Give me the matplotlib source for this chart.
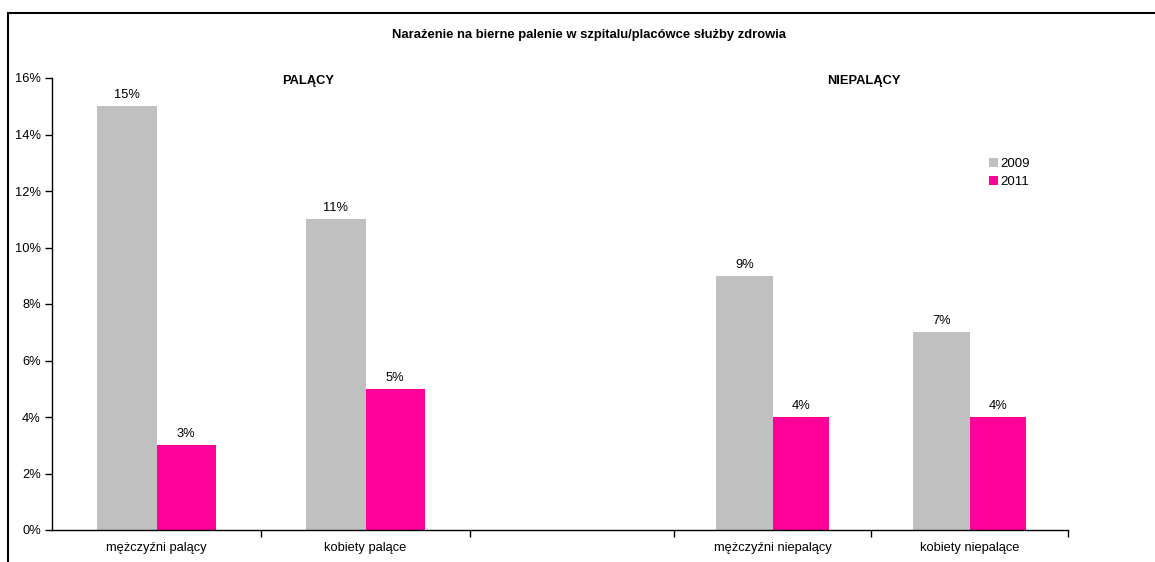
import matplotlib.pyplot as plt
from matplotlib.patches import Patch
from matplotlib.lines import Line2D

plt.rcParams['font.family'] = ['Liberation Sans', 'DejaVu Sans']

kategorie = ["mężczyźni palący", "kobiety palące", "mężczyźni niepalący", "kobiety niepalące"]
lata = ["2009", "2011"]
v2009 = [15, 11, 9, 7]
v2011 = [3, 5, 4, 4]
kolory = ["#C0C0C0", "#FF0099"]
yticks = [0, 2, 4, 6, 8, 10, 12, 14, 16]

# slot edges (left group wider than right group, empty slot in between)
edges = [0, 1, 2, 2.976, 3.919, 4.861]
slots = [(edges[0], edges[1]), (edges[1], edges[2]), (edges[3], edges[4]), (edges[4], edges[5])]
centers = [(a + b) / 2 for a, b in slots]
widths = [(b - a) * 0.285 for a, b in slots]

fs = 9.3
W, H = 1155, 562
fig = plt.figure(figsize=(W / 100, H / 100), dpi=100)
ax = fig.add_axes([52 / W, 1 - 530 / H, (1068 - 52) / W, (530 - 78) / H])

for i in range(len(kategorie)):
    c, w = centers[i], widths[i]
    ax.bar(c - w / 2, v2009[i], width=w, color=kolory[0], linewidth=0)
    ax.bar(c + w / 2, v2011[i], width=w, color=kolory[1], linewidth=0)
    ax.text(c - w / 2, v2009[i] + 0.18, f"{v2009[i]}%", ha="center", va="bottom", fontsize=fs)
    ax.text(c + w / 2, v2011[i] + 0.18, f"{v2011[i]}%", ha="center", va="bottom", fontsize=fs)

ax.set_xlim(edges[0], edges[-1])
ax.set_ylim(0, 16)
ax.set_yticks(yticks)
ax.set_yticklabels([f"{t}%" for t in yticks], fontsize=fs)
ax.set_xticks(edges[1:])
ax.set_xticklabels([])
ax.set_xticks(centers, minor=True)
ax.set_xticklabels(kategorie, minor=True, fontsize=fs)
ax.tick_params(axis="x", which="minor", length=0, pad=9)
ax.tick_params(axis="x", which="major", length=5, width=1, direction="out")
ax.tick_params(axis="y", length=5, width=1, direction="out", pad=3)
for s in ["top", "right"]:
    ax.spines[s].set_visible(False)
for s in ["left", "bottom"]:
    ax.spines[s].set_linewidth(1)

fig.text(589 / W, 1 - 35 / H, "Narażenie na bierne palenie w szpitalu/placówce służby zdrowia",
         ha="center", va="center", fontsize=9.4, fontweight="bold")
fig.text(308 / W, 1 - 81 / H, "PALĄCY", ha="center", va="center", fontsize=fs, fontweight="bold")
fig.text(864 / W, 1 - 81 / H, "NIEPALĄCY", ha="center", va="center", fontsize=fs, fontweight="bold")

handles = [Patch(facecolor=kolory[0]), Patch(facecolor=kolory[1])]
fig.legend(handles, lata, loc="upper left", bbox_to_anchor=(989 / W, 1 - 158 / H), frameon=False,
           fontsize=9.5, handlelength=0.7, handleheight=0.7, handletextpad=0.15, labelspacing=0.4,
           borderpad=0, borderaxespad=0)

# outer frame (left and top edges visible)
fig.add_artist(Line2D([8 / W, 8 / W], [0, 1 - 13 / H], color="black", lw=1.5))
fig.add_artist(Line2D([8 / W, 1], [1 - 13 / H, 1 - 13 / H], color="black", lw=1.5))

fig.savefig("out.png", dpi=100)
